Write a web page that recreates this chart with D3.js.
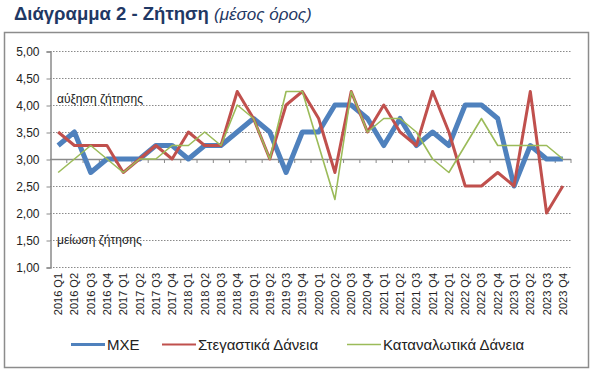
<!DOCTYPE html>
<html>
<head>
<meta charset="utf-8">
<script src="https://cdn.jsdelivr.net/npm/d3@7"></script>
<style>
  body { margin: 0; background: #fff; }
  svg { display: block; font-family: "Liberation Sans", Arial, sans-serif; }
</style>
</head>
<body>
<div class="chart"></div>
<script>
var svgWidth = 594;
var svgHeight = 374;

// quarters 2016 Q1 .. 2023 Q4
var categories = [];
var years = [2016, 2017, 2018, 2019, 2020, 2021, 2022, 2023];
years.forEach(function(y) {
    ['Q1', 'Q2', 'Q3', 'Q4'].forEach(function(q) { categories.push(y + ' ' + q); });
});

var mxe = [3.25, 3.5, 2.75, 3.0, 3.0, 3.0, 3.25, 3.25,
           3.0, 3.25, 3.25, 3.5, 3.75, 3.5, 2.75, 3.5,
           3.5, 4.0, 4.0, 3.75, 3.25, 3.75, 3.25, 3.5,
           3.25, 4.0, 4.0, 3.75, 2.5, 3.25, 3.0, 3.0];
var housing = [3.5, 3.25, 3.25, 3.25, 2.75, 3.0, 3.25, 3.0,
               3.5, 3.25, 3.25, 4.25, 3.75, 3.0, 4.0, 4.25,
               3.75, 2.75, 4.25, 3.5, 4.0, 3.5, 3.25, 4.25,
               3.5, 2.5, 2.5, 2.75, 2.5, 4.25, 2.0, 2.5];
var consumer = [2.75, 3.0, 3.25, 3.0, 2.75, 3.0, 3.0, 3.25,
                3.25, 3.5, 3.25, 4.0, 3.75, 3.0, 4.25, 4.25,
                3.25, 2.25, 4.25, 3.5, 3.75, 3.75, 3.5, 3.0,
                2.75, 3.25, 3.75, 3.25, 3.25, 3.25, 3.25, 3.0];
var yTicks = [1, 1.5, 2, 2.5, 3, 3.5, 4, 4.5, 5];

var series = [
    { name: 'ΜΧΕ', values: mxe, color: '#4F81BD', width: 5, legendWidth: 3.2 },
    { name: 'Στεγαστικά Δάνεια', values: housing, color: '#C0504D', width: 3, legendWidth: 2.2 },
    { name: 'Καταναλωτικά Δάνεια', values: consumer, color: '#9BBB59', width: 1.6, legendWidth: 1.6 }
];

var svg = d3.select('.chart').append('svg')
    .attr('width', svgWidth).attr('height', svgHeight);

// title
var title = svg.append('text').attr('x', 14).attr('y', 20)
    .attr('fill', '#1F3864');
title.append('tspan').attr('font-weight', 'bold').attr('font-size', '18.5px').text('Διάγραμμα 2 - Ζήτηση ');
title.append('tspan').attr('font-style', 'italic').attr('font-size', '17px').text('(μέσος όρος)');

// chart frame
svg.append('rect').attr('x', 4.5).attr('y', 32.5).attr('width', 584).attr('height', 335)
    .attr('fill', 'none').attr('stroke', '#8c8c8c').attr('stroke-width', 1.5);

var x = d3.scaleBand().domain(categories).range([50, 571]);
var y = d3.scaleLinear().domain([1, 5]).range([267, 51]);
var cx = function(c) { return x(c) + x.bandwidth() / 2; };

var locale = d3.formatLocale({ decimal: ',', thousands: '.', grouping: [3], currency: ['€', ''] });
var fmt = locale.format('.2f');

// gridlines
svg.append('g').selectAll('line')
    .data(yTicks.filter(function(d) { return d !== 3; }))
    .enter().append('line')
    .attr('x1', 50).attr('x2', 571)
    .attr('y1', function(d) { return y(d) + 0.5; })
    .attr('y2', function(d) { return y(d) + 0.5; })
    .attr('stroke', '#8a8a8a').attr('stroke-width', 1)
    .attr('stroke-dasharray', '1.5,1.5');

// y axis
var yAxis = svg.append('g').attr('transform', 'translate(50.5,0.5)')
    .call(d3.axisLeft(y).tickValues(yTicks).tickFormat(fmt).tickSize(4).tickPadding(7));
yAxis.select('.domain').attr('stroke', '#8a8a8a').attr('stroke-width', 1.5);
yAxis.selectAll('.tick line').attr('stroke', '#8a8a8a');
yAxis.selectAll('.tick text').attr('font-size', '12px').attr('fill', '#222')
    .attr('font-family', '"Liberation Sans", Arial, sans-serif');

// category axis at 3,00
var base = svg.append('g');
base.append('line').attr('x1', 50).attr('x2', 571)
    .attr('y1', y(3) + 0.5).attr('y2', y(3) + 0.5)
    .attr('stroke', '#8a8a8a').attr('stroke-width', 1.5);
base.selectAll('.tk').data(categories.slice(1).concat(['end']))
    .enter().append('line').attr('class', 'tk')
    .attr('x1', function(d) { return d === 'end' ? 571 : x(d) + 0.5; })
    .attr('x2', function(d) { return d === 'end' ? 571 : x(d) + 0.5; })
    .attr('y1', y(3)).attr('y2', y(3) + 4)
    .attr('stroke', '#8a8a8a');

// category labels
svg.append('g').selectAll('text').data(categories).enter().append('text')
    .text(function(d) { return d; })
    .attr('transform', function(d) { return 'translate(' + (cx(d) + 4) + ',273) rotate(-90)'; })
    .attr('text-anchor', 'end')
    .attr('font-size', '11px').attr('fill', '#222');

// annotations
svg.append('text').attr('x', 57).attr('y', 103).attr('font-size', '12px').attr('fill', '#222')
    .text('αύξηση ζήτησης');
svg.append('text').attr('x', 57).attr('y', 244).attr('font-size', '12px').attr('fill', '#222')
    .text('μείωση ζήτησης');

// lines
var line = d3.line()
    .x(function(d, i) { return cx(categories[i]); })
    .y(function(d) { return y(d); });

svg.append('g').selectAll('path').data(series).enter().append('path')
    .attr('d', function(s) { return line(s.values); })
    .attr('fill', 'none')
    .attr('stroke', function(s) { return s.color; })
    .attr('stroke-width', function(s) { return s.width; })
    .attr('stroke-linejoin', 'round');

// legend
var legendX = [71, 162, 347];
var legend = svg.append('g').selectAll('g').data(series).enter().append('g')
    .attr('transform', function(s, i) { return 'translate(' + legendX[i] + ',344.5)'; });
legend.append('line').attr('x1', 0).attr('x2', 34).attr('y1', 0).attr('y2', 0)
    .attr('stroke', function(s) { return s.color; })
    .attr('stroke-width', function(s) { return s.legendWidth; });
legend.append('text').attr('x', 36).attr('y', 5.5).attr('font-size', '15px').attr('fill', '#222')
    .text(function(s) { return s.name; });
</script>
</body>
</html>
